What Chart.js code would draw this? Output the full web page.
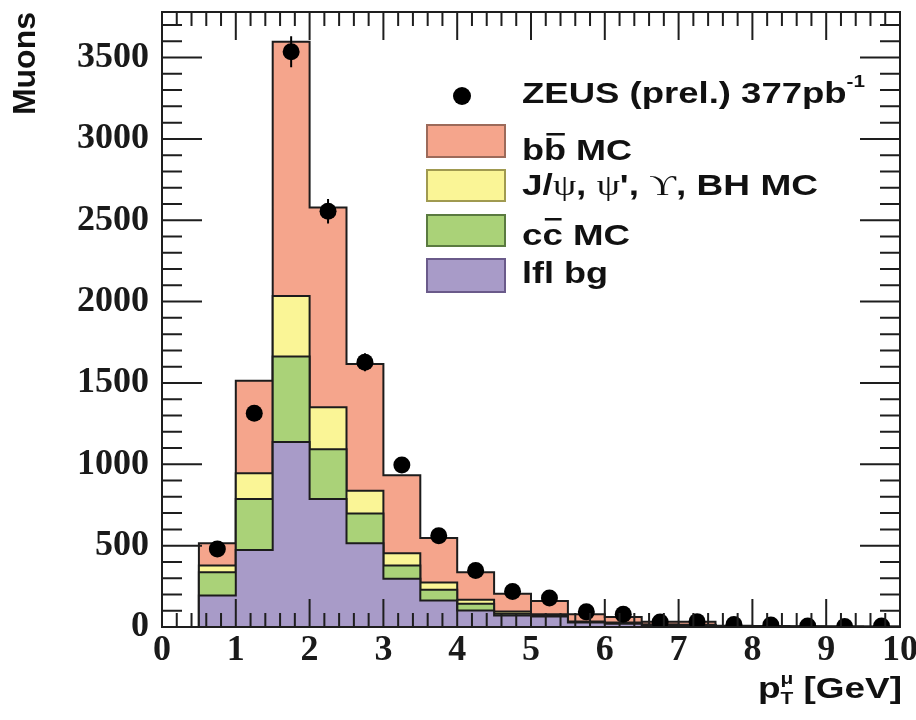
<!DOCTYPE html>
<html>
<head>
<meta charset="utf-8">
<script src="https://cdn.jsdelivr.net/npm/chart.js@4.4.1/dist/chart.umd.min.js"></script>
<style>
  html, body { margin: 0; padding: 0; background: #fff; }
  #wrap { width: 916px; height: 720px; }
</style>
</head>
<body>
<div id="wrap"><canvas id="muonChart" width="916" height="720"></canvas></div>
<script>
// p_T bins, 0.5 GeV wide: low edges + last upper edge
const binEdges = [0.5, 1.0, 1.5, 2.0, 2.5, 3.0, 3.5, 4.0, 4.5, 5.0, 5.5, 6.0, 6.5, 7.0, 7.5, 8.0, 8.5, 9.0, 9.5, 10.0];
const binCenters = [0.75, 1.25, 1.75, 2.25, 2.75, 3.25, 3.75, 4.25, 4.75, 5.25, 5.75, 6.25, 6.75, 7.25, 7.75, 8.25, 8.75, 9.25, 9.75];

// MC contributions per bin (stacked bottom -> top)
const lflBg = [194, 473, 1137, 786, 514, 296, 163, 102, 71, 64, 27, 20, 12, 10, 3, 2, 1, 1, 1];
const ccMC  = [143, 313, 526, 306, 184, 82, 66, 41, 11, 8, 4, 4, 2, 2, 1, 1, 1, 0, 0];
const psiMC = [41, 159, 372, 259, 139, 75, 44, 24, 14, 6, 3, 3, 2, 2, 1, 0, 0, 0, 0];
const bbMC  = [136, 569, 1562, 1228, 779, 480, 274, 170, 108, 82, 44, 34, 17, 19, 3, 3, 2, 2, 1];

// ZEUS data points and errors
const zeusData = [480, 1314, 3536, 2555, 1627, 996, 561, 347, 218, 178, 93, 78, 31, 33, 16, 12, 6, 3, 6];
const zeusErr  = [35, 45, 95, 75, 55, 40, 30, 25, 20, 18, 14, 12, 8, 8, 6, 5, 4, 3, 4];

const yTicks = [0, 500, 1000, 1500, 2000, 2500, 3000, 3500];

const colors = {
  bb: '#F5A58C', psi: '#FAF596', cc: '#AAD278', lfl: '#A89BC8'
};

// cumulative stack -> stepped outline points
function stackPoints(layers) {
  const cum = binCenters.map((_, i) => layers.reduce((s, arr) => s + arr[i], 0));
  const pts = [{ x: binEdges[0], y: 0 }];
  cum.forEach((v, i) => pts.push({ x: binEdges[i], y: v }));
  pts.push({ x: binEdges[binEdges.length - 1], y: cum[cum.length - 1] });
  pts.push({ x: binEdges[binEdges.length - 1], y: 0 });
  return pts;
}

function histSet(label, pts, fillColor) {
  return {
    label: label,
    data: pts,
    stepped: 'before',
    fill: 'origin',
    backgroundColor: fillColor,
    borderColor: '#1c1c1c',
    borderWidth: 2,
    pointRadius: 0,
  };
}

// draws a run of text parts squeezed/stretched to a target width
function drawRun(ctx, parts, x, baseline, targetWidth) {
  let w = 0;
  parts.forEach((p) => {
    ctx.font = p.font;
    p.w = ctx.measureText(p.t).width;
    if (p.adv !== false) w += p.w;
  });
  const sx = targetWidth ? targetWidth / w : 1;
  ctx.save();
  ctx.translate(x, baseline);
  ctx.scale(sx, 1);
  ctx.fillStyle = '#111';
  ctx.textBaseline = 'alphabetic';
  ctx.textAlign = 'left';
  let cx = 0;
  parts.forEach((p) => {
    ctx.font = p.font;
    ctx.fillText(p.t, cx, p.dy || 0);
    if (p.over) {
      ctx.fillRect(cx + 2, -27, p.w - 3, 2.5);
    }
    if (p.adv !== false) cx += p.w;
  });
  ctx.restore();
}

const SANS = 'bold 30px "Liberation Sans", Arial, sans-serif';
const SANS_SM = 'bold 17px "Liberation Sans", Arial, sans-serif';
const GREEK = '30px "Liberation Serif", "DejaVu Serif", serif';

const frameTicks = {
  id: 'frameTicks',
  afterDatasetsDraw(chart) {
    const { ctx, chartArea: a, scales: { x, y } } = chart;
    ctx.save();
    // error bars
    ctx.strokeStyle = '#000';
    ctx.lineWidth = 2;
    ctx.beginPath();
    zeusData.forEach((v, i) => {
      const px = x.getPixelForValue(binCenters[i]);
      ctx.moveTo(px, y.getPixelForValue(v - zeusErr[i]));
      ctx.lineTo(px, y.getPixelForValue(v + zeusErr[i]));
    });
    ctx.stroke();

    ctx.strokeStyle = '#1e1e1e';
    ctx.lineWidth = 2;
    ctx.beginPath();
    for (let k = 0; k <= 50; k++) {
      const v = k * 0.2;
      const px = x.getPixelForValue(v);
      const len = k % 5 === 0 ? 28 : 14;
      ctx.moveTo(px, a.bottom); ctx.lineTo(px, a.bottom - len);
      ctx.moveTo(px, a.top); ctx.lineTo(px, a.top + len);
    }
    for (let k = 0; k <= 37; k++) {
      const py = y.getPixelForValue(k * 100);
      const len = k % 5 === 0 ? 40 : 20;
      ctx.moveTo(a.left, py); ctx.lineTo(a.left + len, py);
      ctx.moveTo(a.right, py); ctx.lineTo(a.right - len, py);
    }
    ctx.stroke();
    ctx.strokeRect(a.left, a.top, a.width, a.height);
    ctx.restore();
  },
  afterDraw(chart) {
    const { ctx } = chart;
    ctx.save();
    // legend marker
    ctx.fillStyle = '#000';
    ctx.beginPath();
    ctx.arc(462, 96, 9, 0, Math.PI * 2);
    ctx.fill();
    // legend boxes
    const boxes = [
      [125, 157, colors.bb, '#9c6a5a'],
      [170, 201, colors.psi, '#a09a50'],
      [215, 246, colors.cc, '#5a7a40'],
      [259, 292, colors.lfl, '#6a5a8a'],
    ];
    boxes.forEach(([t, b, fill, edge]) => {
      ctx.fillStyle = fill;
      ctx.fillRect(427, t, 78, b - t);
      ctx.strokeStyle = edge;
      ctx.lineWidth = 2;
      ctx.strokeRect(427, t, 78, b - t);
    });
    drawRun(ctx, [
      { t: 'ZEUS (prel.) 377pb', font: SANS },
      { t: '-1', font: SANS_SM, dy: -16 },
    ], 522, 103, 343);
    drawRun(ctx, [
      { t: 'b', font: SANS },
      { t: 'b', font: SANS, over: true },
      { t: ' MC', font: SANS },
    ], 522, 160, 110);
    drawRun(ctx, [
      { t: 'J/', font: SANS },
      { t: 'ψ', font: GREEK },
      { t: ', ', font: SANS },
      { t: 'ψ', font: GREEK },
      { t: '\', ', font: SANS },
      { t: 'ϒ', font: GREEK },
      { t: ', BH MC', font: SANS },
    ], 522, 195, 296);
    drawRun(ctx, [
      { t: 'c', font: SANS },
      { t: 'c', font: SANS, over: true },
      { t: ' MC', font: SANS },
    ], 522, 245, 108);
    drawRun(ctx, [{ t: 'lfl bg', font: SANS }], 522, 283, 86);
    // x axis title
    drawRun(ctx, [
      { t: 'p', font: SANS },
      { t: 'μ', font: SANS_SM, dy: -14, adv: false },
      { t: 'T', font: SANS_SM, dy: 6 },
      { t: ' [GeV]', font: SANS },
    ], 758, 698, 144);
    ctx.restore();
  }
};

const datasets = [
  {
    label: 'ZEUS (prel.) 377pb-1',
    data: binCenters.map((c, i) => ({ x: c, y: zeusData[i] })),
    showLine: false,
    pointRadius: 8.5,
    pointBackgroundColor: '#000',
    pointBorderWidth: 0,
  },
  histSet('lfl bg', stackPoints([lflBg]), colors.lfl),
  histSet('cc MC', stackPoints([lflBg, ccMC]), colors.cc),
  histSet('J/psi, psi\', Upsilon, BH MC', stackPoints([lflBg, ccMC, psiMC]), colors.psi),
  histSet('bb MC', stackPoints([lflBg, ccMC, psiMC, bbMC]), colors.bb),
];

const tickFont = { family: 'Liberation Serif', size: 36, weight: 'bold' };

new Chart(document.getElementById('muonChart'), {
  type: 'line',
  data: { datasets: datasets },
  options: {
    responsive: false,
    animation: false,
    layout: { padding: { top: 12, right: 16, left: 0, bottom: 0 } },
    plugins: { legend: { display: false }, tooltip: { enabled: false } },
    scales: {
      x: {
        type: 'linear',
        min: 0,
        max: 10,
        grid: { display: false, drawTicks: false },
        border: { display: false },
        ticks: { stepSize: 1, includeBounds: false, font: tickFont, color: '#1a1a1a', padding: 2, maxRotation: 0 },
        afterFit: (s) => { s.height = 93; s.paddingLeft = 0; s.paddingRight = 0; },
      },
      y: {
        type: 'linear',
        min: 0,
        max: 3780,
        grid: { display: false, drawTicks: false },
        border: { display: false },
        afterBuildTicks: (s) => { s.ticks = yTicks.map((v) => ({ value: v })); },
        ticks: { font: tickFont, color: '#1a1a1a', padding: 13, callback: (v) => String(v) },
        title: {
          display: true,
          text: 'Muons',
          align: 'end',
          color: '#111',
          font: { family: 'Liberation Sans', size: 32, weight: 'bold' },
          padding: { top: 7, bottom: 0 },
        },
        afterFit: (s) => { s.width = 162; s.paddingTop = 0; s.paddingBottom = 0; },
      },
    },
  },
  plugins: [frameTicks],
});
</script>
</body>
</html>
